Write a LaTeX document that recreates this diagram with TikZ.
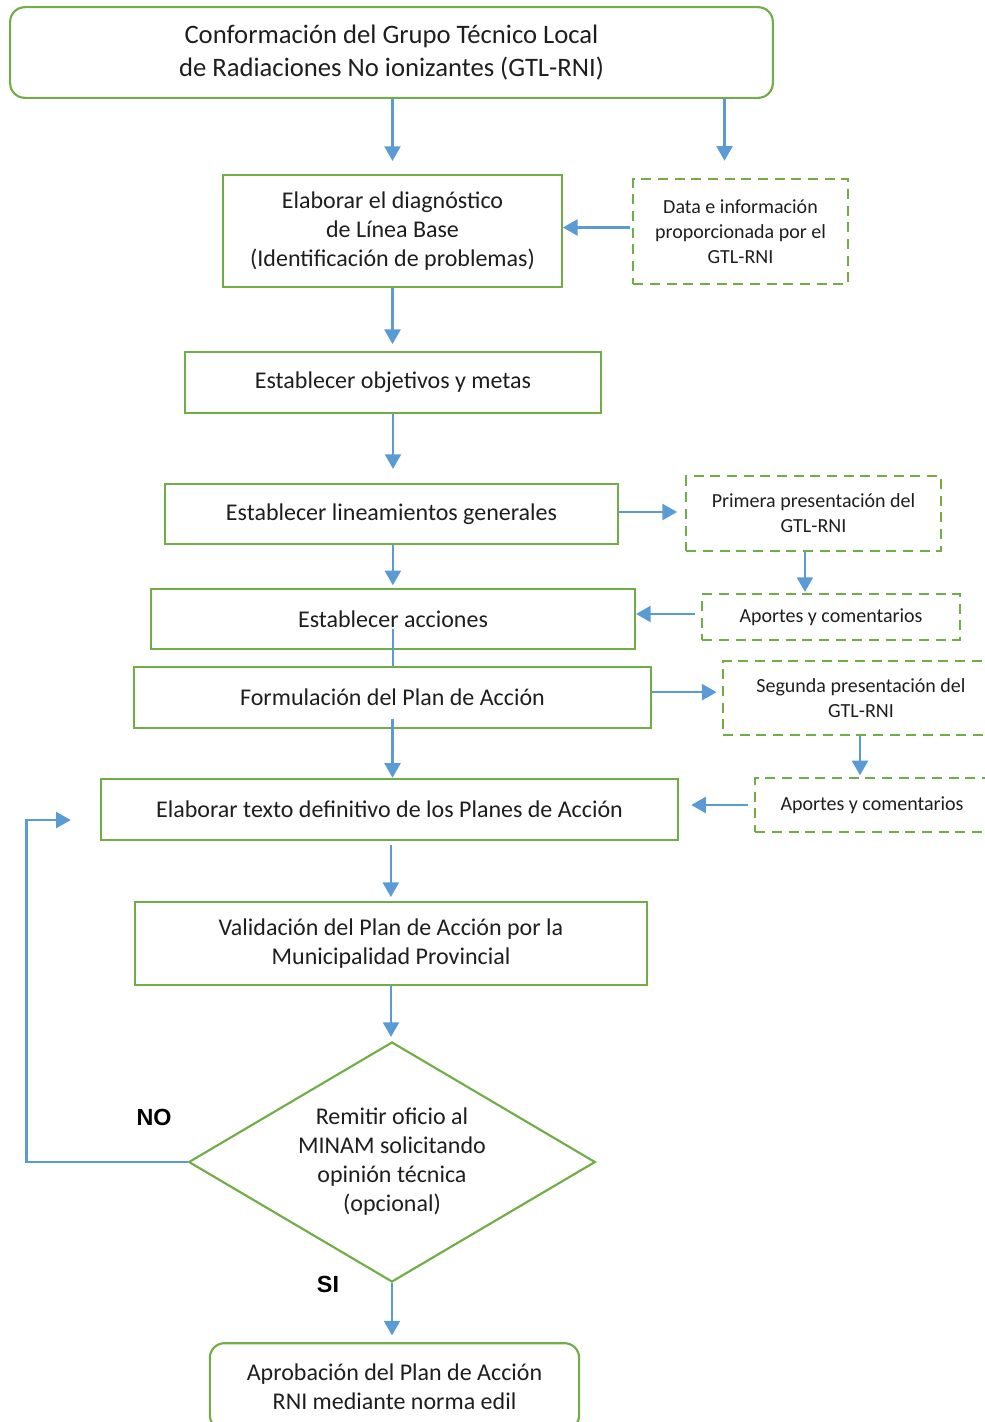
\documentclass[tikz,border=0pt]{standalone}
\usepackage{fontspec}
\setmainfont{Carlito}
\newfontfamily\labelfont{Liberation Sans}
\usepackage{tikz}
\usetikzlibrary{shapes.geometric,arrows.meta}
\definecolor{boxgreen}{HTML}{70AD47}
\definecolor{arrowblue}{HTML}{5B9BD5}
\definecolor{textdark}{HTML}{1E1E1E}

\begin{document}
\begin{tikzpicture}[x=0.75pt, y=-0.75pt,
  proc/.style={draw=boxgreen, line width=1.6pt, align=center, text=textdark,
    font=\fontsize{18}{21.75}\selectfont, inner sep=0pt},
  inputbox/.style={proc, dashed, dash pattern=on 7.5pt off 5pt,
    font=\fontsize{15}{18.75}\selectfont},
  arr/.style={draw=arrowblue, line width=1.8pt, -{Triangle[length=11pt,width=12pt]}},
  plain/.style={draw=arrowblue, line width=1.8pt},
  tag/.style={font=\labelfont\bfseries\fontsize{17.5}{19}\selectfont, text=black}]

% Frame of the page
\useasboundingbox (0,0) rectangle (985,1422);
\clip (0,0) rectangle (985,1422);

% Main column
\node[proc, rounded corners=11pt, minimum width=572pt, minimum height=68pt,
  font=\fontsize{20}{24.75}\selectfont] (top) at (391.5,52.5)
  {Conformación del Grupo Técnico Local\\de Radiaciones No ionizantes (GTL-RNI)};
\node[proc, minimum width=254pt, minimum height=84pt] (diag) at (392.5,231)
  {Elaborar el diagnóstico\\de Línea Base\\(Identificación de problemas)};
\node[proc, minimum width=312pt, minimum height=46pt] (objetivos) at (393,382.5)
  {Establecer objetivos y metas};
\node[proc, minimum width=340pt, minimum height=45pt] (lineamientos) at (391.5,514)
  {Establecer lineamientos generales};
\node[proc, minimum width=363pt, minimum height=45pt] (acciones) at (393,619)
  {Establecer acciones};
\node[proc, minimum width=388pt, minimum height=46pt] (formulacion) at (392.5,697.5)
  {Formulación del Plan de Acción};
\node[proc, minimum width=433pt, minimum height=46pt] (texto) at (389.5,809.5)
  {Elaborar texto definitivo de los Planes de Acción};
\node[proc, minimum width=384pt, minimum height=62pt] (validacion) at (391,943.5)
  {Validación del Plan de Acción por la\\Municipalidad Provincial};
\node[proc, diamond, aspect=1.7, inner sep=-6pt, minimum width=305pt, minimum height=180pt] (minam) at (392,1162)
  {Remitir oficio al\\MINAM solicitando\\opinión técnica\\(opcional)};
\node[proc, rounded corners=11pt, minimum width=277pt, minimum height=65pt] (aprobacion) at (394.5,1386.5)
  {Aprobación del Plan de Acción\\RNI mediante norma edil};

% Inputs from the GTL-RNI
\node[inputbox, minimum width=161pt, minimum height=79pt] (datos) at (740.5,231.5)
  {Data e información\\proporcionada por el\\GTL-RNI};
\node[inputbox, minimum width=191pt, minimum height=56pt] (primera) at (813.5,513.5)
  {Primera presentación del\\GTL-RNI};
\node[inputbox, minimum width=193pt, minimum height=34pt] (aportesA) at (831,617)
  {Aportes y comentarios};
\node[inputbox, minimum width=207pt, minimum height=55pt] (segunda) at (861,698)
  {Segunda presentación del\\GTL-RNI};
\node[inputbox, minimum width=175pt, minimum height=40pt] (aportesB) at (872,805)
  {Aportes y comentarios};

% Decision labels
\node[tag] (lblno) at (154,1117) {NO};
\node[tag] (lblsi) at (328,1284) {SI};

% Arrows down the column
\draw[arr, shorten >=9.75pt] (top.south -| diag.north) -- (diag.north);
\draw[arr, shorten >=12.75pt] ([xshift=-12pt]datos.north |- top.south) -- ([xshift=-12pt]datos.north);
\draw[arr, shorten <=1.5pt] ([yshift=3pt]datos.west) -- ([yshift=3pt]datos.west -| diag.east);
\draw[arr, shorten >=5pt] (diag.south) -- (diag.south |- objetivos.north);
\draw[arr, shorten >=10.5pt] (objetivos.south) -- (objetivos.south |- lineamientos.north);
\draw[arr, shorten >=6pt] ([yshift=1.5pt]lineamientos.east) -- ([yshift=1.5pt]lineamientos.east -| primera.west);
\draw[arr, shorten >=2pt] ([xshift=1pt]lineamientos.south) -- ([xshift=1pt]lineamientos.south |- acciones.north);
\draw[arr, shorten >=1pt] ([xshift=-6.4pt]primera.south) -- ([xshift=-6.4pt]primera.south |- aportesA.north);
\draw[arr, shorten <=5pt] ([yshift=2.25pt]aportesA.west) -- ([yshift=2.25pt]aportesA.west -| acciones.east);
\draw[plain] ([yshift=15.75pt]acciones.south) -- (acciones.south |- formulacion.north);
\draw[arr, shorten >=4pt] ([yshift=4pt]formulacion.east) -- ([yshift=4pt]formulacion.east -| segunda.west);
\draw[arr, shorten >=1.5pt] ([xshift=-0.75pt]segunda.south) -- ([xshift=-0.75pt]segunda.south |- aportesB.north);
\draw[arr, shorten <=5pt, shorten >=9pt] (aportesB.west) -- (aportesB.west -| texto.east);
\draw[arr] ([yshift=7.5pt]formulacion.south) -- (formulacion.south |- texto.north);
\draw[arr, shorten <=3pt, shorten >=3pt] ([xshift=1pt]texto.south) -- ([xshift=1pt]texto.south |- validacion.north);
\draw[arr, shorten >=3pt] (validacion.south) -- (validacion.south |- minam.north);
\draw[arr, shorten >=5pt] (minam.south) -- (minam.south |- aprobacion.north);

% Return path when the answer is NO
\coordinate (retorno) at ([xshift=-21.75pt, yshift=-7.9pt]texto.west);
\draw[arr] (minam.west) -- ++(-120.75pt,0) |- (retorno);
\end{tikzpicture}
\end{document}
